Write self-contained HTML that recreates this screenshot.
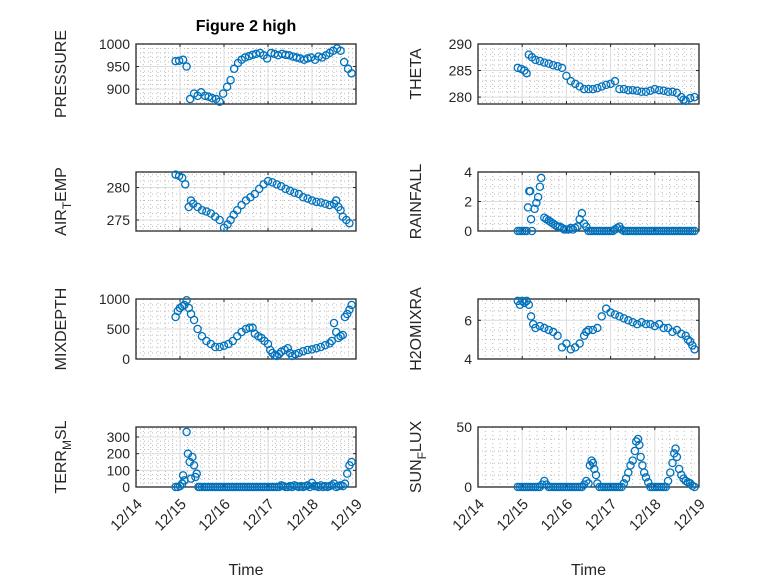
<!DOCTYPE html>
<html><head><meta charset="utf-8">
<style>
html,body{margin:0;padding:0;background:#fff;}
svg{display:block;font-family:"Liberation Sans","DejaVu Sans",sans-serif;}
</style></head>
<body>
<svg id="fig" width="778" height="583" viewBox="0 0 778 583" xmlns="http://www.w3.org/2000/svg">
<rect width="778" height="583" fill="#fff"/>
<text x="246" y="31" text-anchor="middle" font-size="16" font-weight="bold" fill="#000">Figure 2 high</text>
</svg>
<script>
// ---- data (time in days of December) ----
const pressT=[14.90,14.98,15.07,15.15,15.23,15.32,15.40,15.48,15.57,15.65,15.73,15.82,15.90,15.98,16.07,16.15,16.23,16.32,16.40,16.48,16.57,16.65,16.73,16.82,16.90,16.98,17.07,17.15,17.23,17.32,17.40,17.48,17.57,17.65,17.73,17.82,17.90,17.98,18.07,18.15,18.23,18.32,18.40,18.48,18.57,18.65,18.73,18.82,18.90];
const pressV=[962,963,965,950,878,890,885,893,885,883,880,878,872,890,905,920,945,958,965,970,973,976,978,980,975,968,980,978,975,978,976,975,972,970,968,965,968,970,965,972,970,975,980,985,990,985,960,945,935];
const thetaT=[14.90,14.98,15.05,15.10,15.15,15.22,15.30,15.40,15.50,15.60,15.70,15.80,15.90,16.00,16.10,16.20,16.30,16.40,16.50,16.60,16.70,16.80,16.90,17.00,17.10,17.20,17.30,17.40,17.50,17.60,17.70,17.80,17.90,18.00,18.10,18.20,18.30,18.40,18.50,18.60,18.65,18.70,18.80,18.90];
const thetaV=[285.5,285.3,285.0,284.5,288.0,287.5,287.0,286.8,286.5,286.3,286.0,285.8,285.5,284.0,283.0,282.5,282.0,281.5,281.5,281.5,281.7,282.0,282.3,282.5,283.0,281.5,281.5,281.3,281.3,281.2,281.0,281.0,281.2,281.5,281.3,281.2,281.0,281.0,280.8,280.0,279.5,279.3,279.8,280.0];
const airT=[14.90,14.98,15.05,15.12,15.20,15.25,15.30,15.40,15.50,15.60,15.70,15.80,15.90,16.00,16.08,16.15,16.22,16.30,16.40,16.50,16.60,16.70,16.80,16.90,17.00,17.10,17.20,17.30,17.40,17.50,17.60,17.70,17.80,17.90,18.00,18.10,18.20,18.30,18.40,18.50,18.55,18.60,18.65,18.70,18.78,18.85];
const airV=[282.0,281.8,281.5,280.5,277.0,278.0,277.5,277.0,276.5,276.3,276.0,275.5,275.0,273.8,274.3,275.0,275.8,276.5,277.3,278.0,278.5,279.0,279.8,280.5,281.0,280.8,280.5,280.2,279.8,279.5,279.2,279.0,278.5,278.3,278.0,277.8,277.7,277.5,277.3,277.5,278.0,277.0,276.5,275.5,275.0,274.5];
const rainT=[14.90,14.95,15.00,15.05,15.10,15.13,15.16,15.18,15.20,15.22,15.28,15.32,15.36,15.40,15.43,15.50,15.55,15.60,15.65,15.70,15.75,15.80,15.85,15.90,15.95,16.00,16.05,16.10,16.15,16.20,16.25,16.30,16.35,16.40,16.45,16.50,16.55,16.60,16.65,16.70,16.75,16.80,16.85,16.90,16.95,17.00,17.05,17.10,17.15,17.20,17.25,17.30,17.35,17.40,17.45,17.50,17.55,17.60,17.65,17.70,17.75,17.80,17.85,17.90,17.95,18.00,18.05,18.10,18.15,18.20,18.25,18.30,18.35,18.40,18.45,18.50,18.55,18.60,18.65,18.70,18.75,18.80,18.85,18.90];
const rainV=[0,0,0,0,0,1.6,2.7,2.7,0.8,0,1.5,1.9,2.3,3.0,3.6,0.9,0.8,0.7,0.6,0.5,0.4,0.3,0.3,0.2,0.1,0.1,0.1,0.2,0.1,0.2,0.3,0.8,1.2,0.5,0.3,0,0,0,0,0,0,0,0,0,0,0,0,0.1,0.2,0.3,0.1,0,0,0,0,0,0,0,0,0,0,0,0,0,0,0,0,0,0,0,0,0,0,0,0,0,0,0,0,0,0,0,0,0];
const mixT=[14.90,14.95,15.00,15.05,15.10,15.15,15.20,15.25,15.32,15.40,15.50,15.60,15.70,15.80,15.90,16.00,16.10,16.20,16.30,16.40,16.50,16.58,16.65,16.70,16.78,16.85,16.92,17.00,17.05,17.10,17.15,17.20,17.25,17.30,17.38,17.45,17.50,17.55,17.62,17.70,17.80,17.90,18.00,18.10,18.20,18.30,18.40,18.45,18.50,18.55,18.60,18.65,18.70,18.75,18.80,18.85,18.90];
const mixV=[700,800,850,880,900,980,850,750,650,500,380,300,250,200,200,220,250,300,380,450,500,520,520,420,380,350,300,250,150,100,60,50,80,120,150,180,100,50,80,100,130,150,160,180,200,230,260,300,600,450,350,380,400,700,750,820,900];
const h2oT=[14.90,14.95,15.00,15.05,15.10,15.15,15.20,15.25,15.30,15.40,15.50,15.60,15.70,15.80,15.90,16.00,16.10,16.20,16.30,16.40,16.45,16.50,16.60,16.70,16.80,16.90,17.00,17.10,17.20,17.30,17.40,17.50,17.60,17.70,17.80,17.90,18.00,18.10,18.20,18.30,18.40,18.50,18.60,18.70,18.75,18.80,18.85,18.90];
const h2oV=[7.0,6.8,7.0,6.9,7.0,6.8,6.2,5.8,5.6,5.7,5.6,5.5,5.4,5.2,4.6,4.8,4.5,4.6,4.8,5.2,5.4,5.5,5.5,5.6,6.2,6.6,6.4,6.3,6.2,6.1,6.0,5.9,5.8,5.9,5.8,5.8,5.7,5.8,5.6,5.6,5.4,5.5,5.3,5.2,5.0,4.9,4.7,4.5];
const terrT=[14.90,14.95,15.00,15.05,15.07,15.10,15.15,15.18,15.22,15.25,15.28,15.32,15.35,15.38,15.42,15.45,15.50,15.55,15.60,15.65,15.70,15.75,15.80,15.85,15.90,15.95,16.00,16.05,16.10,16.15,16.20,16.25,16.30,16.35,16.40,16.45,16.50,16.55,16.60,16.65,16.70,16.75,16.80,16.85,16.90,16.95,17.00,17.05,17.10,17.15,17.20,17.25,17.30,17.35,17.40,17.45,17.50,17.55,17.60,17.65,17.70,17.75,17.80,17.85,17.90,17.95,18.00,18.05,18.10,18.15,18.20,18.25,18.30,18.35,18.40,18.45,18.50,18.55,18.60,18.65,18.70,18.75,18.80,18.85,18.90];
const terrV=[0,0,5,20,70,40,330,200,150,50,180,130,60,80,0,0,0,0,0,0,0,0,0,0,0,0,0,0,0,0,0,0,0,0,0,0,0,0,0,0,0,0,0,0,0,0,0,0,0,0,0,0,10,5,0,0,5,0,10,5,0,5,0,5,10,0,25,5,5,0,10,0,5,0,5,10,20,0,5,10,5,20,80,130,150];
const sunT=[14.90,14.95,15.00,15.05,15.10,15.15,15.20,15.25,15.30,15.35,15.40,15.45,15.50,15.55,15.60,15.65,15.70,15.75,15.80,15.85,15.90,15.95,16.00,16.05,16.10,16.15,16.20,16.25,16.30,16.35,16.40,16.45,16.50,16.53,16.57,16.60,16.63,16.67,16.70,16.75,16.80,16.85,16.90,16.95,17.00,17.05,17.10,17.15,17.20,17.25,17.30,17.35,17.40,17.45,17.50,17.55,17.58,17.62,17.65,17.68,17.72,17.76,17.80,17.85,17.90,17.95,18.00,18.05,18.10,18.15,18.20,18.25,18.30,18.35,18.40,18.44,18.47,18.50,18.55,18.60,18.65,18.70,18.75,18.80,18.85,18.90];
const sunV=[0,0,0,0,0,0,0,0,0,0,0,2,5,2,0,0,0,0,0,0,0,0,0,0,0,0,0,0,0,0,2,5,3,18,22,20,15,10,3,0,0,0,0,0,0,0,0,0,0,0,3,7,12,18,22,30,38,40,35,25,18,12,8,4,0,0,0,0,0,0,0,0,5,12,20,28,32,25,15,10,7,5,4,3,1,0];
const xTickLabels=["12/14","12/15","12/16","12/17","12/18","12/19"];
const xTickVals=[14,15,16,17,18,19];

const svg=document.getElementById('fig');
const NS='http://www.w3.org/2000/svg';
function mk(tag,attrs,parent){const e=document.createElementNS(NS,tag);for(const k in attrs)e.setAttribute(k,attrs[k]);(parent||svg).appendChild(e);return e;}

const cols=[{x0:136,x1:356,lx:66},{x0:478,x1:699,lx:421}];
const rows=[{y0:44,y1:104},{y0:172,y1:231},{y0:299,y1:359},{y0:427,y1:487}];
const panels=[
 {name:'pressure',c:0,r:0,t:pressT,v:pressV,ymin:867,ymax:1000,ticks:[900,950,1000],minor:10,label:['PRESSURE']},
 {name:'theta',c:1,r:0,t:thetaT,v:thetaV,ymin:278.7,ymax:290,ticks:[280,285,290],minor:1,label:['THETA']},
 {name:'air-temp',c:0,r:1,t:airT,v:airV,ymin:273.3,ymax:282.4,ticks:[275,280],minor:1,label:['AIR','T','EMP']},
 {name:'rainfall',c:1,r:1,t:rainT,v:rainV,ymin:0,ymax:4,ticks:[0,2,4],minor:0.5,label:['RAINFALL']},
 {name:'mixdepth',c:0,r:2,t:mixT,v:mixV,ymin:0,ymax:1000,ticks:[0,500,1000],minor:100,label:['MIXDEPTH']},
 {name:'h2omixra',c:1,r:2,t:h2oT,v:h2oV,ymin:4,ymax:7.1,ticks:[4,6],minor:0.5,label:['H2OMIXRA']},
 {name:'terr-msl',c:0,r:3,t:terrT,v:terrV,ymin:0,ymax:360,ticks:[0,100,200,300],minor:25,label:['TERR','M','SL']},
 {name:'sun-flux',c:1,r:3,t:sunT,v:sunV,ymin:0,ymax:50,ticks:[0,50],minor:10,label:['SUN','F','LUX']}
];

panels.forEach(p=>{
 const C=cols[p.c],R=rows[p.r];
 const g=mk('g',{});
 
 
 const xs=t=>C.x0+(t-14)/5*(C.x1-C.x0);
 const ys=v=>R.y1-(v-p.ymin)/(p.ymax-p.ymin)*(R.y1-R.y0);
 for(let t=14;t<19;t+=1/6){const x=xs(t);if(Math.abs(t-Math.round(t))<1e-6)continue;mk('line',{x1:x,x2:x,y1:R.y0,y2:R.y1,stroke:'#bbb','stroke-width':1,'stroke-dasharray':'1,3'},g);}
 for(let v=Math.ceil(p.ymin/p.minor)*p.minor;v<p.ymax;v+=p.minor){if(p.ticks.some(k=>Math.abs(k-v)<1e-6))continue;const y=ys(v);mk('line',{x1:C.x0,x2:C.x1,y1:y,y2:y,stroke:'#bbb','stroke-width':1,'stroke-dasharray':'1,3'},g);}
 xTickVals.forEach((t,i)=>{const x=xs(t);mk('line',{x1:x,x2:x,y1:R.y0,y2:R.y1,stroke:'#dcdcdc','stroke-width':1},g);
   mk('line',{x1:x,x2:x,y1:R.y1,y2:R.y1-3,stroke:'#262626'},g);mk('line',{x1:x,x2:x,y1:R.y0,y2:R.y0+3,stroke:'#262626'},g);});
 p.ticks.forEach(v=>{const y=ys(v);mk('line',{x1:C.x0,x2:C.x1,y1:y,y2:y,stroke:'#dcdcdc','stroke-width':1},g);
   mk('line',{x1:C.x0,x2:C.x0+3,y1:y,y2:y,stroke:'#262626'},g);mk('line',{x1:C.x1,x2:C.x1-3,y1:y,y2:y,stroke:'#262626'},g);
   const tl=mk('text',{x:C.x0-6,y:y+5,'text-anchor':'end','font-size':14,fill:'#262626'},g);tl.textContent=v;
   
   });
 mk('rect',{x:C.x0,y:R.y0,width:C.x1-C.x0,height:R.y1-R.y0,fill:'none',stroke:'#262626','stroke-width':1.3},g);
 p.t.forEach((t,i)=>{const c=mk('circle',{cx:xs(t),cy:ys(p.v[i]),r:3.6,fill:'none',stroke:'#0072BD','stroke-width':1.3},g);
   
   });
 const cy=(R.y0+R.y1)/2;
 const yl=mk('text',{x:C.lx,y:cy,'text-anchor':'middle','font-size':16,fill:'#262626',transform:`rotate(-90 ${C.lx} ${cy})`},g);
 
 
 if(p.label.length===1){yl.textContent=p.label[0];}
 else{const a=mk('tspan',{},yl);a.textContent=p.label[0];const b=mk('tspan',{dy:5,'font-size':12},yl);b.textContent=p.label[1];const d=mk('tspan',{dy:-5},yl);d.textContent=p.label[2];}
 if(p.r===3){
  xTickVals.forEach((t,i)=>{const x=xs(t)+7,y=R.y1+18;const tl=mk('text',{x:x,y:y,'text-anchor':'end','font-size':15,fill:'#262626',transform:`rotate(-45 ${x} ${y})`},g);tl.textContent=xTickLabels[i];
   
   });
  const xt=mk('text',{x:(C.x0+C.x1)/2,y:575,'text-anchor':'middle','font-size':16,fill:'#262626'},g);xt.textContent='Time';
  
  
 }
});
</script>
</body></html>
